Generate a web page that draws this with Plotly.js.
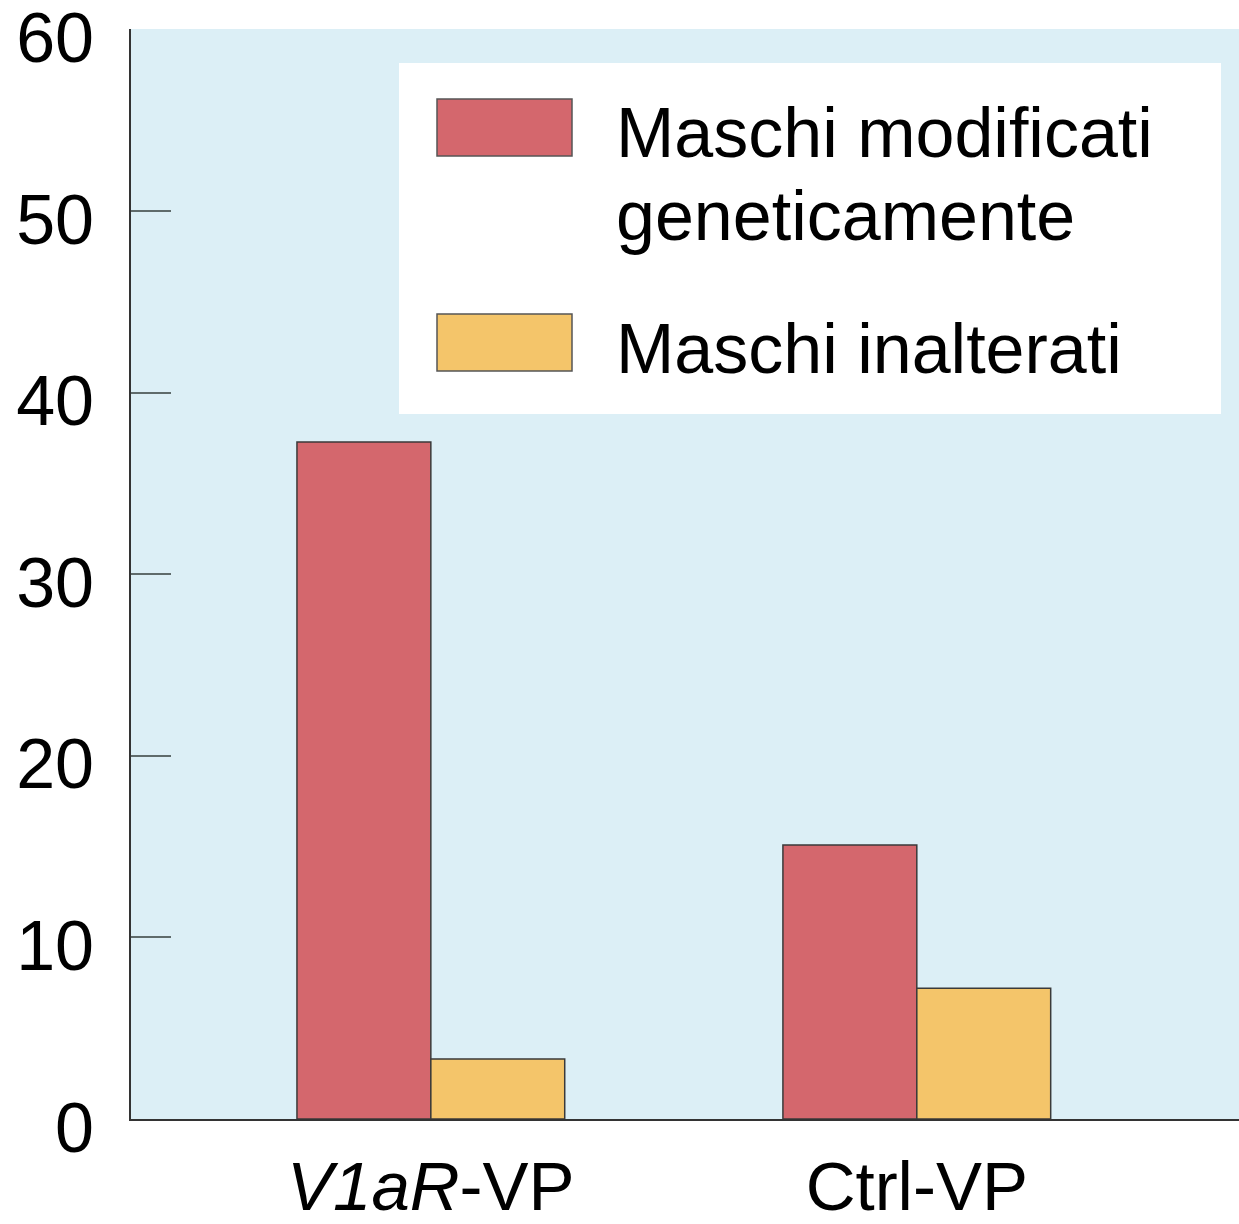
<!DOCTYPE html>
<html>
<head>
<meta charset="utf-8">
<script src="https://cdn.plot.ly/plotly-3.0.1.min.js"></script>
<style>html,body{margin:0;padding:0;background:#fff;}#chart{width:1239px;height:1224px;}</style>
</head>
<body>
<div id="chart"></div>
<script>
// ---- data ----
const categories = ["V1aR-VP", "Ctrl-VP"];
const categoryLabels = ["<i>V1aR</i>-VP", "Ctrl-VP"];
const seriesNames = ["Maschi modificati<br>geneticamente", "Maschi inalterati"];
const modifiedValues = [37.3, 15.1];
const unalteredValues = [3.3, 7.2];
const yTickValues = [0, 10, 20, 30, 40, 50, 60];

// ---- style ----
const colors = ["#d4676d", "#f4c56a"];
const outline = "#3a3a3a";
const FONT = "Liberation Sans, Arial, Helvetica, sans-serif";

const seriesValues = [modifiedValues, unalteredValues];
const traces = seriesValues.map((vals, i) => ({
  type: "bar",
  x: categories,
  y: vals,
  name: seriesNames[i].replace("<br>", " "),
  marker: {color: colors[i], line: {color: outline, width: 1.5}},
  hoverinfo: "skip"
}));

// pixel -> paper helpers for the custom legend (plot area 131..1239 x 29..1119)
const L = 131, R = 1239, T = 29, B = 1119;
const px = v => (v - L) / (R - L);
const py = v => (B - v) / (B - T);

const shapes = [
  {type: "rect", xref: "paper", yref: "paper", x0: px(399), x1: px(1221), y0: py(414), y1: py(63),
   fillcolor: "#ffffff", line: {width: 0}, layer: "above"},
  {type: "rect", xref: "paper", yref: "paper", x0: px(437), x1: px(572), y0: py(156), y1: py(99),
   fillcolor: colors[0], line: {color: "#555555", width: 1.5}, layer: "above"},
  {type: "rect", xref: "paper", yref: "paper", x0: px(437), x1: px(572), y0: py(371), y1: py(314),
   fillcolor: colors[1], line: {color: "#555555", width: 1.5}, layer: "above"}
];

const line1 = seriesNames[0].split("<br>");
const legendLines = [
  {text: line1[0], y: 133},
  {text: line1[1], y: 216},
  {text: seriesNames[1], y: 349}
];
const annotations = legendLines.map(l => ({
  xref: "paper", yref: "paper", x: px(614), y: py(l.y), xanchor: "left", yanchor: "middle",
  text: l.text, showarrow: false, font: {family: FONT, size: 70, color: "#000"}
}));

const layout = {
  width: 1239, height: 1224,
  margin: {l: L, r: 1239 - R, t: T, b: 1224 - B},
  paper_bgcolor: "#ffffff",
  plot_bgcolor: "#dceff6",
  showlegend: false,
  barmode: "group",
  bargap: 0.449,
  bargroupgap: 0,
  font: {family: FONT, size: 70, color: "#000"},
  xaxis: {
    type: "category",
    range: [-0.617, 1.663],
    tickvals: categories,
    ticktext: categoryLabels,
    showline: true, linecolor: "#333333", linewidth: 2,
    ticks: "", showgrid: false, zeroline: false,
    tickfont: {family: FONT, size: 69, color: "#000"},
    ticklabelstandoff: 6,
    ticklabeloverflow: "allow",
    fixedrange: true
  },
  yaxis: {
    range: [0, 60.05],
    tickvals: yTickValues,
    ticktext: yTickValues.map(String),
    ticks: "inside", ticklen: 40, tickwidth: 2, tickcolor: "#5f6b6b",
    showline: true, linecolor: "#333333", linewidth: 2,
    showgrid: false, zeroline: false,
    tickfont: {family: FONT, size: 70, color: "#000"},
    ticklabelstandoff: 21,
    ticklabelshift: 8,
    ticklabeloverflow: "allow",
    fixedrange: true
  },
  shapes: shapes,
  annotations: annotations
};

Plotly.newPlot("chart", traces, layout, {displayModeBar: false, staticPlot: true});
</script>
</body>
</html>
